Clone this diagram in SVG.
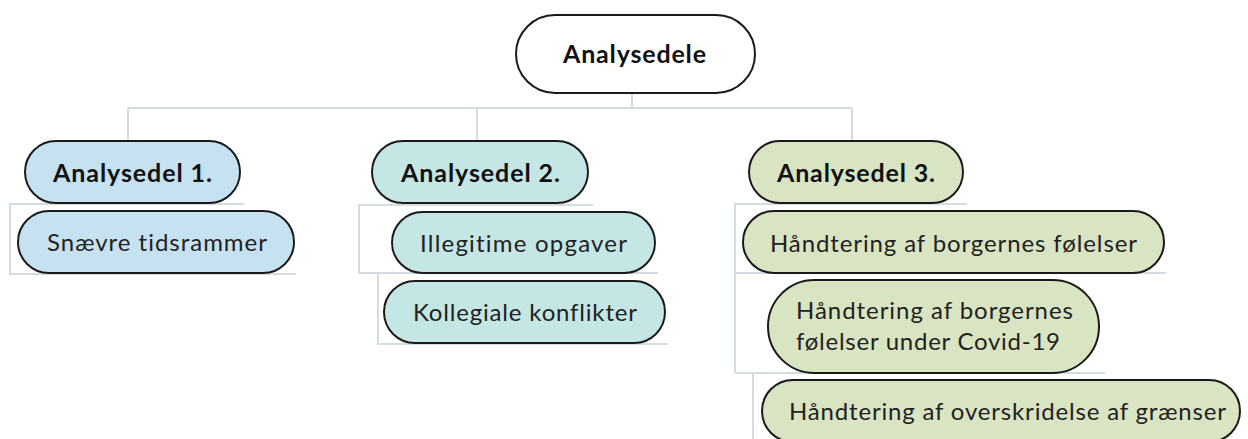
<svg xmlns="http://www.w3.org/2000/svg" width="1248" height="439" viewBox="0 0 1248 439">
<style>
.n{stroke:#1a1a1a;stroke-width:2}
.c{fill:none;stroke:#d5dce1;stroke-width:2}
.b{font-family:Lato,"Noto Sans",sans-serif;font-weight:bold;font-size:25px;fill:#111;font-variant-ligatures:none}
.t{font-family:Lato,"Noto Sans",sans-serif;font-size:24px;fill:#222;font-variant-ligatures:none}
</style>
<rect width="1248" height="439" fill="#fff"/>
<g id="connectors">
<path class="c" d="M632 93V108M128 108H852M128 108V141M477 108V141M852 108V141"/>
<path class="c" d="M244 204H10V274H296"/>
<path class="c" d="M593 205H359V273H658M378 273V344H668"/>
<path class="c" d="M967 204H735V373M735 273H1166M735 373H1105M753 373V439"/>
</g>
<g id="root"><rect class="n" x="516" y="15" width="239" height="78" rx="39" fill="#fff"/><text class="b" x="563" y="63" textLength="143" lengthAdjust="spacing">Analysedele</text></g>
<g id="a1"><rect class="n" x="25" y="141" width="215" height="62" rx="31" fill="#c6e2f1"/><text class="b" x="53" y="182" textLength="159" lengthAdjust="spacing">Analysedel 1.</text></g>
<g id="a1c1"><rect class="n" x="18" y="211" width="276" height="62" rx="31" fill="#c6e2f1"/><text class="t" x="47" y="251" textLength="220" lengthAdjust="spacing">Snævre tidsrammer</text></g>
<g id="a2"><rect class="n" x="372" y="141" width="216" height="62" rx="31" fill="#c4e6e5"/><text class="b" x="401" y="182" textLength="159" lengthAdjust="spacing">Analysedel 2.</text></g>
<g id="a2c1"><rect class="n" x="392" y="212" width="263" height="61" rx="30.5" fill="#c4e6e5"/><text class="t" x="420" y="252" textLength="207" lengthAdjust="spacing">Illegitime opgaver</text></g>
<g id="a2c2"><rect class="n" x="384" y="281" width="281" height="62" rx="31" fill="#c4e6e5"/><text class="t" x="413" y="321" textLength="224" lengthAdjust="spacing">Kollegiale konflikter</text></g>
<g id="a3"><rect class="n" x="749" y="141" width="214" height="62" rx="31" fill="#d9e4c3"/><text class="b" x="777" y="182" textLength="158" lengthAdjust="spacing">Analysedel 3.</text></g>
<g id="a3c1"><rect class="n" x="743" y="211" width="421" height="62" rx="31" fill="#d9e4c3"/><text class="t" x="770" y="252" textLength="367" lengthAdjust="spacing">Håndtering af borgernes følelser</text></g>
<g id="a3c2"><rect class="n" x="768" y="280" width="331" height="93" rx="46.5" fill="#d9e4c3"/><text class="t" x="796" y="319" textLength="277" lengthAdjust="spacing">Håndtering af borgernes</text><text class="t" x="796" y="350" textLength="264" lengthAdjust="spacing">følelser under Covid-19</text></g>
<g id="a3c3"><rect class="n" x="762" y="380" width="478" height="62" rx="31" fill="#d9e4c3"/><text class="t" x="789" y="420" textLength="437" lengthAdjust="spacing">Håndtering af overskridelse af grænser</text></g>
</svg>
